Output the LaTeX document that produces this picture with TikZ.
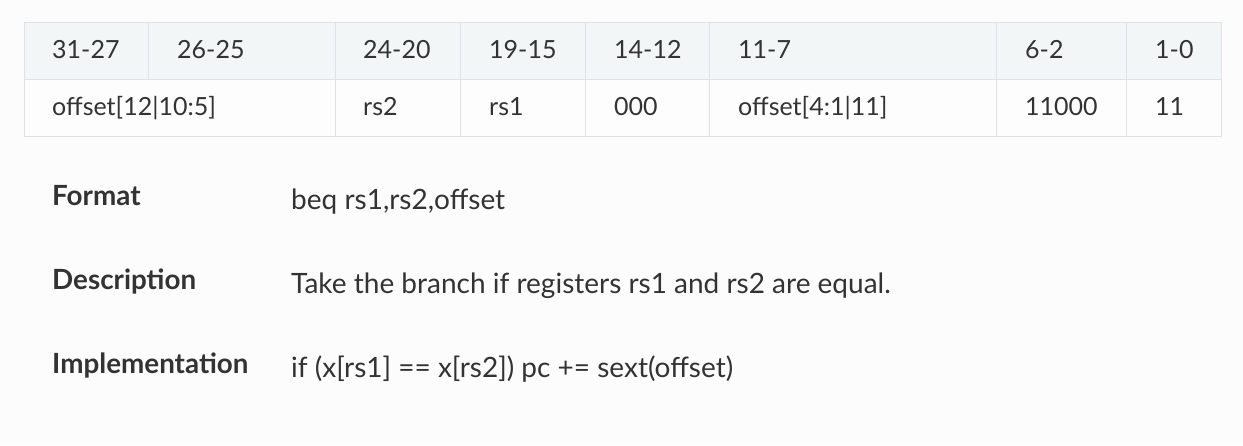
\documentclass[tikz,border=0pt]{standalone}
\usepackage{fontspec}
\setmainfont{Lato}
\definecolor{bgc}{HTML}{FCFCFC}
\definecolor{hdr}{HTML}{F3F6F7}
\definecolor{cellc}{HTML}{FDFDFD}
\definecolor{brd}{HTML}{DFE2E5}
\definecolor{txt}{HTML}{333333}
\begin{document}
\begin{tikzpicture}[x=1pt,y=-1pt,
  tcell/.style={anchor=base west,inner sep=0pt,text=txt,font=\fontsize{25}{29}\selectfont},
  lab/.style={anchor=base west,inner sep=0pt,text=txt,font=\fontsize{27.8}{32}\selectfont\bfseries},
  val/.style={anchor=base west,inner sep=0pt,text=txt,font=\fontsize{28}{32}\selectfont},
  hbox/.style={draw=brd,fill=hdr,line width=1pt},
  rbox/.style={draw=brd,fill=cellc,line width=1pt}]
\fill[bgc] (0,0) rectangle (1243,445);
\useasboundingbox (0,0) rectangle (1243,445);
% header row
\draw[hbox] (24.5,22.5) rectangle (148,79);
\draw[hbox] (148,22.5) rectangle (335,79);
\draw[hbox] (335,22.5) rectangle (460,79);
\draw[hbox] (460,22.5) rectangle (585,79);
\draw[hbox] (585,22.5) rectangle (709,79);
\draw[hbox] (709,22.5) rectangle (996,79);
\draw[hbox] (996,22.5) rectangle (1126,79);
\draw[hbox] (1126,22.5) rectangle (1221.5,79);
% body row
\draw[rbox] (24.5,79) rectangle (335,136);
\draw[rbox] (335,79) rectangle (460,136);
\draw[rbox] (460,79) rectangle (585,136);
\draw[rbox] (585,79) rectangle (709,136);
\draw[rbox] (709,79) rectangle (996,136);
\draw[rbox] (996,79) rectangle (1126,136);
\draw[rbox] (1126,79) rectangle (1221.5,136);
% header text
\node[tcell] (h1) at (52,58) {31-27};
\node[tcell] (h2) at (177,58) {26-25};
\node[tcell] (h3) at (363,58) {24-20};
\node[tcell] (h4) at (489,58) {19-15};
\node[tcell] (h5) at (614,58) {14-12};
\node[tcell] (h6) at (738,58) {11-7};
\node[tcell] (h7) at (1025,58) {6-2};
\node[tcell] (h8) at (1155,58) {1-0};
% body text
\node[tcell] (b1) at (52,115) {offset[12|10:5]};
\node[tcell] (b2) at (363,115) {rs2};
\node[tcell] (b3) at (489,115) {rs1};
\node[tcell] (b4) at (614,115) {000};
\node[tcell] (b5) at (738,115) {offset[4:1|11]};
\node[tcell] (b6) at (1025,115) {11000};
\node[tcell] (b7) at (1155,115) {11};
% lower section
\node[lab] (l1) at (52,205) {Format};
\node[lab] (l2) at (52,289) {Description};
\node[lab] (l3) at (52,373) {Implementation};
\node[val] (v1) at (291,209) {beq rs1,rs2,offset};
\node[val] (v2) at (291,293) {Take the branch if registers rs1 and rs2 are equal.};
\node[val] (v3) at (291,377) {if (x[rs1] == x[rs2]) pc += sext(offset)};
\end{tikzpicture}
\end{document}
